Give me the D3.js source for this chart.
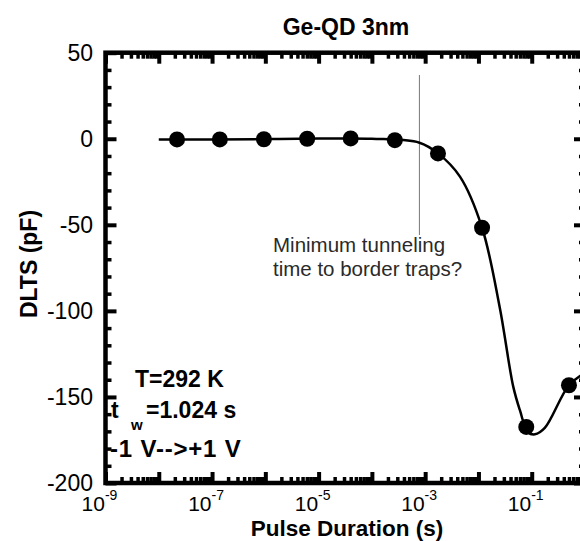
<!DOCTYPE html>
<html>
<head>
<meta charset="utf-8">
<script src="https://cdn.jsdelivr.net/npm/d3@7"></script>
<style>
  body { margin: 0; background: #fff; }
  svg { display: block; font-family: "Liberation Sans", Arial, sans-serif; }
</style>
</head>
<body>
<div id="chart"></div>
<script>
// measured points (pulse duration in s, DLTS in pF)
const pulseDuration = [2.2e-8, 1.4e-7, 9.4e-7, 6.1e-6, 4.0e-5, 2.7e-4, 1.74e-3, 1.17e-2, 7.9e-2, 0.5];
const dlts = [-0.4, -0.4, -0.3, 0, 0.2, -0.8, -8.5, -51.7, -167.4, -143.2];

// fitted guide curve
const fitDuration = [1e-8, 1e-7, 1e-6, 1e-5, 1e-4, 7.8e-4, 1.74e-3, 4.5e-3, 1.17e-2, 2.5e-2, 4.5e-2, 6e-2, 8.5e-2, 0.115, 0.176, 0.5, 1];
const fitDlts = [-0.4, -0.4, -0.2, 0.1, 0, -2.3, -8.5, -22, -51.7, -97.7, -144, -157.7, -170.5, -171.7, -168, -143.2, -136];

const yTicks = [50, 0, -50, -100, -150, -200];
const xLabelExponents = [-9, -7, -5, -3, -1];

const title = "Ge-QD 3nm";
const xTitle = "Pulse Duration (s)";
const yTitle = "DLTS (pF)";
const note = ["Minimum tunneling", "time to border traps?"];
const noteDuration = 7.8e-4;

const width = 580;
const height = 541;
const frame = { left: 105.5, right: 585, top: 52.7, bottom: 483 };

const x = d3.scaleLog().domain([1e-9, 1]).range([frame.left, frame.right]);
const y = d3.scaleLinear().domain([-200, 50]).range([frame.bottom, frame.top]);

const svg = d3.select("#chart").append("svg")
  .attr("width", width)
  .attr("height", height);

// log ticks: decades are major, 2..9 are minor
const decades = d3.range(-9, 1).map((e) => Math.pow(10, e));
const minors = [];
decades.slice(0, -1).forEach((d) => {
  for (let k = 2; k <= 9; k++) minors.push(d * k);
});
const yMinors = d3.range(-200, 51, 10).filter((v) => v % 50 !== 0);

function tickStyle(g, w) {
  g.select(".domain").remove();
  g.selectAll(".tick line").attr("stroke", "#000").attr("stroke-width", w);
  g.selectAll(".tick text").remove();
}

const axes = [
  [d3.axisBottom, `translate(0,${frame.bottom})`, x],
  [d3.axisTop, `translate(0,${frame.top})`, x],
  [d3.axisLeft, `translate(${frame.left},0)`, y],
  [d3.axisRight, `translate(${frame.right},0)`, y],
];
axes.forEach(([axis, tr, scale]) => {
  const isX = scale === x;
  svg.append("g").attr("transform", tr)
    .call(axis(scale).tickValues(isX ? minors : yMinors).tickSize(-6))
    .call((g) => tickStyle(g, 3.5));
  svg.append("g").attr("transform", tr)
    .call(axis(scale).tickValues(isX ? decades : yTicks).tickSize(-11))
    .call((g) => tickStyle(g, 4));
});

svg.append("rect")
  .attr("x", frame.left)
  .attr("y", frame.top)
  .attr("width", frame.right - frame.left)
  .attr("height", frame.bottom - frame.top)
  .attr("fill", "none")
  .attr("stroke", "#000")
  .attr("stroke-width", 4.5);

// y tick labels
svg.append("g").selectAll("text")
  .data(yTicks)
  .join("text")
  .attr("x", 93)
  .attr("y", (d) => y(d))
  .attr("dy", "0.36em")
  .attr("text-anchor", "end")
  .attr("font-size", 23)
  .text((d) => d);

// x tick labels 10^n
const xLab = svg.append("g").selectAll("text")
  .data(xLabelExponents)
  .join("text")
  .attr("x", (d) => x(Math.pow(10, d)) - 6)
  .attr("y", 511)
  .attr("text-anchor", "middle")
  .attr("font-size", 21);
xLab.append("tspan").text("10");
xLab.append("tspan")
  .attr("dy", -11)
  .attr("font-size", 14)
  .text((d) => d);

svg.append("text")
  .attr("x", 347)
  .attr("y", 536)
  .attr("text-anchor", "middle")
  .attr("font-weight", "bold")
  .attr("font-size", 22.5)
  .text(xTitle);

svg.append("text")
  .attr("x", 346)
  .attr("y", 35)
  .attr("text-anchor", "middle")
  .attr("font-weight", "bold")
  .attr("font-size", 23)
  .text(title);

svg.append("text")
  .attr("transform", "translate(37,264) rotate(-90)")
  .attr("text-anchor", "middle")
  .attr("font-weight", "bold")
  .attr("font-size", 23)
  .text(yTitle);

// vertical marker line and note
svg.append("line")
  .attr("x1", x(noteDuration))
  .attr("x2", x(noteDuration))
  .attr("y1", 75)
  .attr("y2", 235)
  .attr("stroke", "#777")
  .attr("stroke-width", 1);

svg.append("g").selectAll("text")
  .data(note)
  .join("text")
  .attr("x", 273)
  .attr("y", (d, i) => 252 + i * 23.5)
  .attr("font-size", 20.5)
  .attr("fill", "#2a2a2a")
  .text((d) => d);

// fit line
const line = d3.line()
  .x((d) => x(d[0]))
  .y((d) => y(d[1]))
  .curve(d3.curveCatmullRom.alpha(0.5));

svg.append("path")
  .datum(fitDuration.map((d, i) => [d, fitDlts[i]]))
  .attr("fill", "none")
  .attr("stroke", "#000")
  .attr("stroke-width", 2.5)
  .attr("d", line);

svg.append("g").selectAll("circle")
  .data(pulseDuration.map((d, i) => [d, dlts[i]]))
  .join("circle")
  .attr("cx", (d) => x(d[0]))
  .attr("cy", (d) => y(d[1]))
  .attr("r", 8)
  .attr("fill", "#000");

// measurement conditions
const cond = svg.append("g")
  .attr("font-weight", "bold")
  .attr("font-size", 23);
cond.append("text").attr("x", 135).attr("y", 387).text("T=292 K");
const tw = cond.append("text").attr("x", 111).attr("y", 418);
tw.append("tspan").text("t");
tw.append("tspan").attr("x", 131).attr("dy", 12).attr("font-size", 15).text("w");
tw.append("tspan").attr("x", 146).attr("dy", -12).text("=1.024 s");
cond.append("text")
  .attr("x", 110)
  .attr("y", 457)
  .attr("font-size", 24)
  .attr("letter-spacing", 0.8)
  .text("-1 V-->+1 V");
</script>
</body>
</html>
